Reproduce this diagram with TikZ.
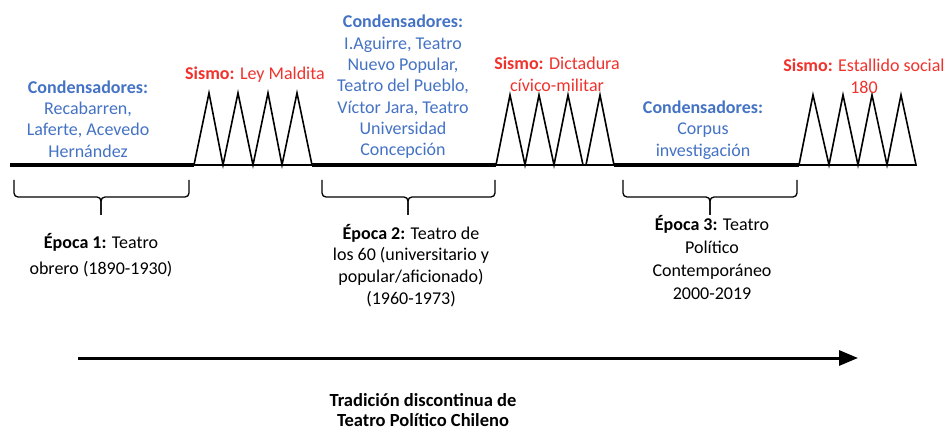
\documentclass[tikz,border=0pt]{standalone}
\usepackage{fontspec}
\setmainfont{Carlito}
\usetikzlibrary{arrows.meta}
\definecolor{cblue}{RGB}{68,114,196}
\definecolor{sred}{RGB}{240,50,45}
\tikzset{
  cond/.style={text=cblue, align=center, font=\fontsize{18}{21.3}\selectfont, inner sep=0pt},
  sismo/.style={text=sred, align=center, font=\fontsize{18}{22.5}\selectfont, inner sep=0pt},
  epoca/.style={text=black, align=center, font=\fontsize{18}{22.5}\selectfont, inner sep=0pt},
  mainline/.style={line width=3.5pt},
  quake/.style={line width=1.6pt, line join=miter},
  bracket/.style={line width=1.3pt, rounded corners=4pt},
  timearrow/.style={line width=3pt, -{Triangle[length=19pt,width=15pt]}}
}
\begin{document}
\begin{tikzpicture}[x=1pt,y=-1pt]
\useasboundingbox (0,0) rectangle (952,430);
% timeline segments
\coordinate (s0) at (10,165);
\coordinate (g1a) at (194,165);
\coordinate (g1b) at (312,165);
\coordinate (g2a) at (496,165);
\coordinate (g2b) at (614,165);
\coordinate (g3a) at (799,165);
\coordinate (g3b) at (916,165);
\draw[mainline] (s0) -- (g1a);
\draw[mainline] (g1b) -- (g2a);
\draw[mainline] (g2b) -- (g3a);
% earthquake triangles
\draw[quake] (g1a) -- (209,93) -- (223,165) -- (238,93) -- (253,165) -- (268,93) -- (282,165) -- (297,93) -- (g1b) -- cycle;
\draw[quake] (g2a) -- (510,95) -- (525,165) -- (539,95) -- (554,165) -- (568,95) -- (583,165) -- cycle;
\draw[quake] (586,165) -- (600,95) -- (g2b) -- cycle;
\draw[quake] (583,165) -- (586,165);
\draw[quake] (g3a) -- (813,95) -- (829,165) -- (843,95) -- (858,165) -- (872,95) -- (887,165) -- (901,95) -- (g3b) -- cycle;
% brackets
\draw[bracket] (14,180) -- (14,197) -- (101,197) -- (101,215);
\draw[bracket] (189,180) -- (189,197) -- (101,197) -- (101,215);
\draw[bracket] (322,180) -- (322,197) -- (408,197) -- (408,215);
\draw[bracket] (495,180) -- (495,197) -- (408,197) -- (408,215);
\draw[bracket] (623,180) -- (623,197) -- (710,197) -- (710,215);
\draw[bracket] (797,180) -- (797,197) -- (710,197) -- (710,215);
% condensadores
\node[cond] (c1) at (88,119) {\textbf{Condensadores:}\\Recabarren,\\Laferte, Acevedo\\Hernández};
\node[cond] (c2) at (403,87) {\textbf{Condensadores:}\\I.Aguirre, Teatro\\Nuevo Popular,\\Teatro del Pueblo,\\Víctor Jara, Teatro\\Universidad\\Concepción};
\node[cond] (c3) at (703,130) {\textbf{Condensadores:}\\Corpus\\investigación};
% sismos
\node[sismo] (s1) at (255,75) {\textbf{Sismo:} Ley Maldita};
\node[sismo] (s2) at (557,74.5) {\textbf{Sismo:} Dictadura\\cívico-militar};
\node[sismo] (s3) at (864,76.5) {\textbf{Sismo:} Estallido social\\180};
% epocas
\node[epoca, font=\fontsize{18}{26.5}\selectfont] (e1) at (101,255) {\textbf{Época 1:} Teatro\\obrero (1890-1930)};
\node[epoca, font=\fontsize{18}{21.7}\selectfont] (e2) at (411,265.5) {\textbf{Época 2:} Teatro de\\los 60 (universitario y\\popular/aficionado)\\(1960-1973)};
\node[epoca, font=\fontsize{18}{23}\selectfont] (e3) at (712,257.5) {\textbf{Época 3:} Teatro\\Político\\Contemporáneo\\2000-2019};
% tradition arrow
\coordinate (ta) at (78,358);
\coordinate (tb) at (858,358);
\draw[timearrow] (ta) -- (tb);
\node[epoca, font=\fontsize{18.5}{20.5}\selectfont\bfseries] (trad) at (423,410) {Tradición discontinua de\\Teatro Político Chileno};
\end{tikzpicture}
\end{document}
